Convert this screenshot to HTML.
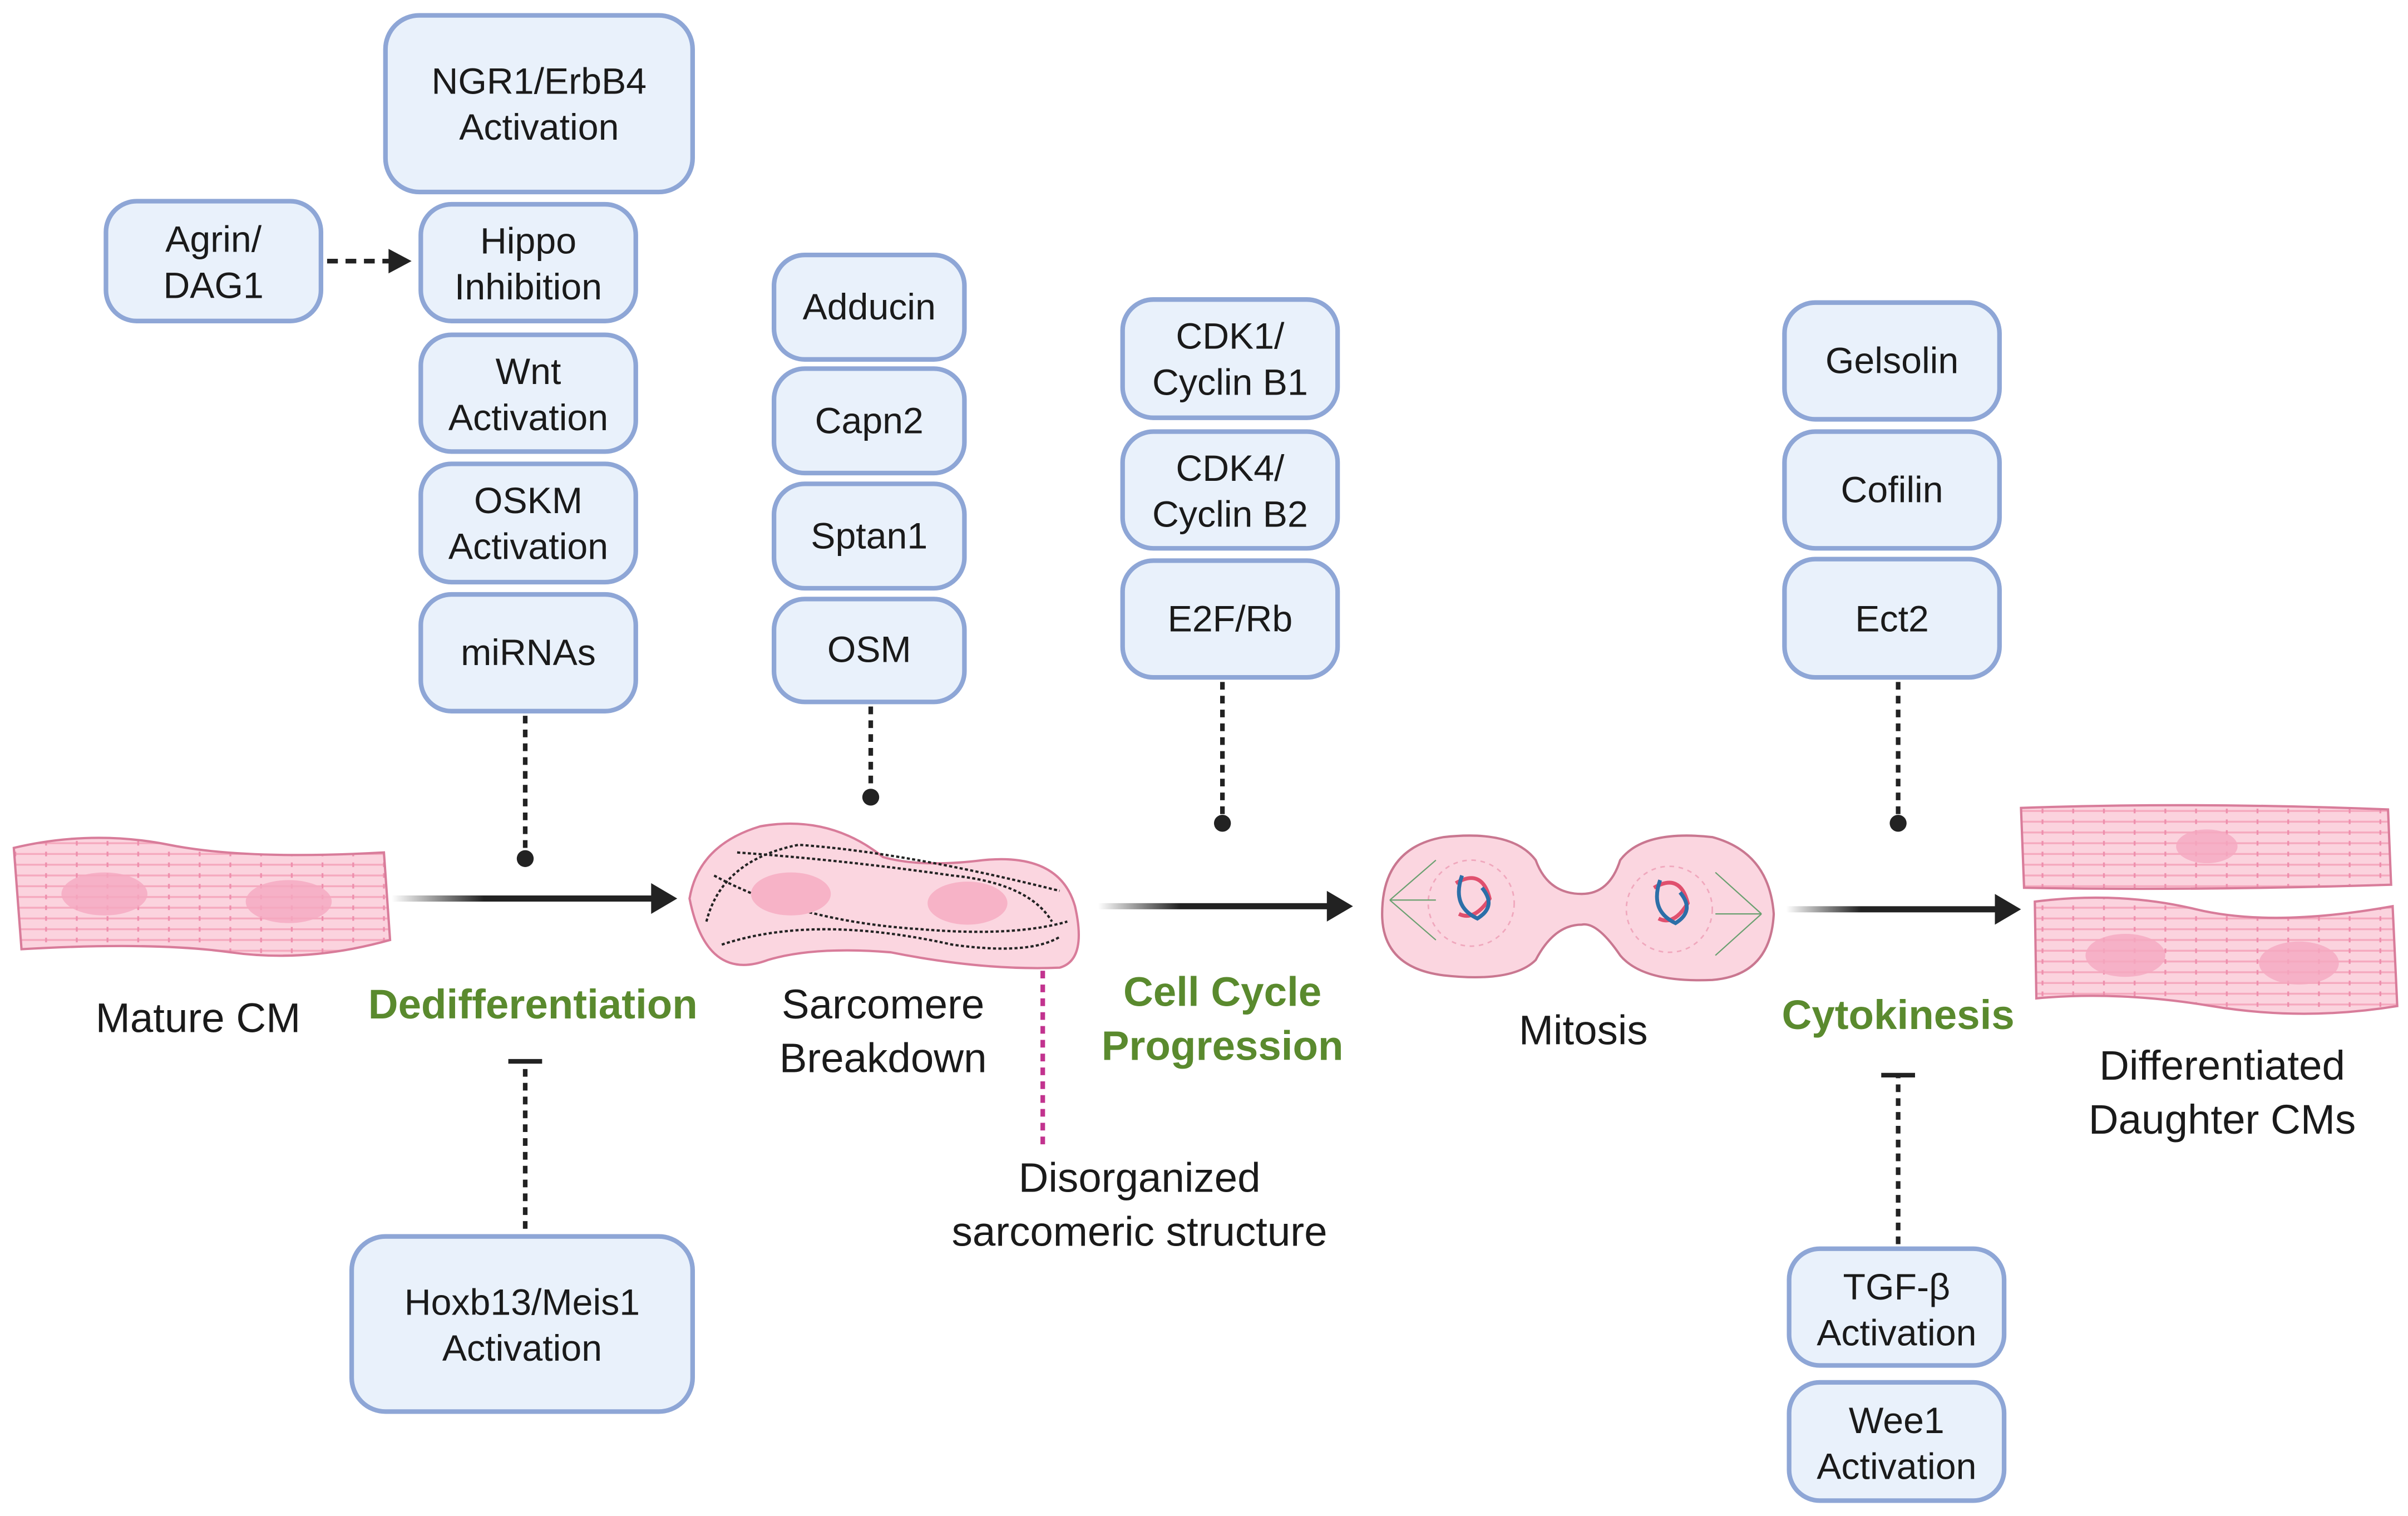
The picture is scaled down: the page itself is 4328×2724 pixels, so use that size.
<!DOCTYPE html>
<html><head><meta charset="utf-8"><style>
html,body{margin:0;padding:0;background:#fff}
svg{display:block}
text{font-family:"Liberation Sans",sans-serif;fill:#1a1a1a}
</style></head><body>
<svg width="4328" height="2724" viewBox="0 0 1568 987" preserveAspectRatio="none" xmlns="http://www.w3.org/2000/svg">
<defs>
<linearGradient id="ga" x1="0" x2="1" y1="0" y2="0"><stop offset="0" stop-color="#fff"/><stop offset="0.35" stop-color="#222"/><stop offset="1" stop-color="#222"/></linearGradient>
<pattern id="str" width="40" height="7" patternUnits="userSpaceOnUse"><rect width="40" height="7" fill="#fbd3de"/><line x1="0" y1="3" x2="40" y2="3" stroke="#f5a9be" stroke-width="1.2"/><line x1="10" y1="1.5" x2="10" y2="4.5" stroke="#ee8fad" stroke-width="1.2"/><line x1="30" y1="1.5" x2="30" y2="4.5" stroke="#ee8fad" stroke-width="1.2"/></pattern>
</defs>
<g fill="#e9f1fb" stroke="#8ea6d6" stroke-width="3">
<rect x="251" y="10" width="200" height="115" rx="22"/>
<rect x="69" y="131" width="140" height="78" rx="20"/>
<rect x="274" y="133" width="140" height="76" rx="20"/>
<rect x="274" y="218" width="140" height="76" rx="20"/>
<rect x="274" y="302" width="140" height="77" rx="20"/>
<rect x="274" y="387" width="140" height="76" rx="20"/>
<rect x="504" y="166" width="124" height="68" rx="20"/>
<rect x="504" y="240" width="124" height="68" rx="20"/>
<rect x="504" y="315" width="124" height="68" rx="20"/>
<rect x="504" y="390" width="124" height="67" rx="20"/>
<rect x="731" y="195" width="140" height="77" rx="20"/>
<rect x="731" y="281" width="140" height="76" rx="20"/>
<rect x="731" y="365" width="140" height="76" rx="20"/>
<rect x="1162" y="197" width="140" height="76" rx="20"/>
<rect x="1162" y="281" width="140" height="76" rx="20"/>
<rect x="1162" y="364" width="140" height="77" rx="20"/>
<rect x="229" y="805" width="222" height="114" rx="22"/>
<rect x="1165" y="813" width="140" height="76" rx="20"/>
<rect x="1165" y="900" width="140" height="77" rx="20"/>
</g>
<g font-size="24" text-anchor="middle">
<text x="351" y="61">NGR1/ErbB4</text><text x="351" y="91">Activation</text>
<text x="139" y="164">Agrin/</text><text x="139" y="194">DAG1</text>
<text x="344" y="165">Hippo</text><text x="344" y="195">Inhibition</text>
<text x="344" y="250">Wnt</text><text x="344" y="280">Activation</text>
<text x="344" y="334">OSKM</text><text x="344" y="364">Activation</text>
<text x="344" y="433">miRNAs</text>
<text x="566" y="208">Adducin</text>
<text x="566" y="282">Capn2</text>
<text x="566" y="357">Sptan1</text>
<text x="566" y="431">OSM</text>
<text x="801" y="227">CDK1/</text><text x="801" y="257">Cyclin B1</text>
<text x="801" y="313">CDK4/</text><text x="801" y="343">Cyclin B2</text>
<text x="801" y="411">E2F/Rb</text>
<text x="1232" y="243">Gelsolin</text>
<text x="1232" y="327">Cofilin</text>
<text x="1232" y="411">Ect2</text>
<text x="340" y="856">Hoxb13/Meis1</text><text x="340" y="886">Activation</text>
<text x="1235" y="846">TGF-β</text><text x="1235" y="876">Activation</text>
<text x="1235" y="933">Wee1</text><text x="1235" y="963">Activation</text>
</g>
<!-- connectors -->
<g stroke="#222" stroke-width="3" fill="none">
<line x1="213" y1="170" x2="254" y2="170" stroke-dasharray="7,5"/>
<line x1="342" y1="466" x2="342" y2="555" stroke-dasharray="5,4"/>
<line x1="567" y1="460" x2="567" y2="515" stroke-dasharray="5,4"/>
<line x1="796" y1="444" x2="796" y2="532" stroke-dasharray="5,4"/>
<line x1="1236" y1="444" x2="1236" y2="532" stroke-dasharray="5,4"/>
<line x1="342" y1="800" x2="342" y2="692" stroke-dasharray="5,4"/>
<line x1="331" y1="691" x2="353" y2="691"/>
<line x1="1236" y1="810" x2="1236" y2="701" stroke-dasharray="5,4"/>
<line x1="1225" y1="700" x2="1247" y2="700"/>
</g>
<polygon points="253,162 268,170 253,178" fill="#222"/>
<g fill="#222"><circle cx="342" cy="559" r="5.5"/><circle cx="567" cy="519" r="5.5"/><circle cx="796" cy="536" r="5.5"/><circle cx="1236" cy="536" r="5.5"/></g>
<g>
<rect x="255" y="583" width="172" height="4" fill="url(#ga)"/><polygon points="424,575 441,585 424,595" fill="#222"/>
<rect x="715" y="588" width="152" height="4" fill="url(#ga)"/><polygon points="864,580 881,590 864,600" fill="#222"/>
<rect x="1163" y="590" width="139" height="4" fill="url(#ga)"/><polygon points="1299,582 1316,592 1299,602" fill="#222"/>
</g>
<line x1="679" y1="614" x2="679" y2="745" stroke="#c2338f" stroke-width="3" stroke-dasharray="5,4"/>
<circle cx="679" cy="612" r="5" fill="#c2338f"/>
<!-- cells -->
<path d="M9,552 Q60,540 110,550 T250,555 L254,612 Q200,627 150,620 T14,618 Z" fill="url(#str)" stroke="#d87c9a" stroke-width="1.5"/>
<ellipse cx="68" cy="582" rx="28" ry="14" fill="#f5a9c0" opacity="0.8"/>
<ellipse cx="188" cy="587" rx="28" ry="14" fill="#f5a9c0" opacity="0.8"/>
<path d="M449,585 Q455,550 495,538 Q540,530 575,558 Q600,565 640,560 Q690,555 700,590 Q708,625 690,630 Q640,632 580,620 Q530,616 500,625 Q460,640 449,585 Z" fill="#fbd6e0" stroke="#d87c9a" stroke-width="1.5"/>
<g stroke="#222" stroke-width="1.5" fill="none" stroke-dasharray="2,1.5">
<path d="M460,600 Q470,560 520,550 Q590,555 690,580"/>
<path d="M465,570 Q520,600 600,605 Q660,610 695,600"/>
<path d="M470,615 Q530,595 620,615 Q670,622 690,610"/>
<path d="M480,555 Q550,560 620,570 Q670,575 685,600"/>
</g>
<ellipse cx="515" cy="582" rx="26" ry="14" fill="#f7b3c7"/>
<ellipse cx="630" cy="588" rx="26" ry="14" fill="#f7b3c7"/>
<path d="M900,595 Q900,552 940,545 Q985,540 1000,560 Q1008,582 1030,582 Q1048,582 1055,560 Q1070,540 1115,545 Q1152,555 1155,595 Q1153,635 1115,638 Q1070,640 1055,622 Q1040,600 1030,602 Q1012,602 1000,625 Q985,640 940,635 Q900,630 900,595 Z" fill="#fbd6e0" stroke="#c97790" stroke-width="1.5"/>
<circle cx="958" cy="588" r="28" fill="none" stroke="#f0a8bd" stroke-dasharray="3,3"/>
<circle cx="1087" cy="592" r="28" fill="none" stroke="#f0a8bd" stroke-dasharray="3,3"/>
<g fill="none" stroke-width="2.5"><path d="M948,575 Q965,565 970,585 Q960,600 950,595" stroke="#e0506e"/><path d="M952,570 Q945,590 962,598 Q975,590 965,578" stroke="#2c6fa8"/>
<path d="M1077,578 Q1094,568 1099,588 Q1090,603 1080,598" stroke="#e0506e"/><path d="M1081,573 Q1074,593 1091,601 Q1104,593 1094,581" stroke="#2c6fa8"/></g>
<g stroke="#6aa070" stroke-width="0.8"><line x1="905" y1="586" x2="935" y2="560"/><line x1="905" y1="586" x2="935" y2="612"/><line x1="905" y1="586" x2="935" y2="586"/><line x1="1147" y1="595" x2="1117" y2="568"/><line x1="1147" y1="595" x2="1117" y2="622"/><line x1="1147" y1="595" x2="1117" y2="595"/></g>
<path d="M1316,526 Q1430,522 1555,527 L1557,576 Q1430,580 1318,578 Z" fill="url(#str)" stroke="#d87c9a" stroke-width="1.5"/>
<ellipse cx="1437" cy="551" rx="20" ry="11" fill="#f5a9c0" opacity="0.8"/>
<path d="M1325,587 Q1380,580 1430,592 T1558,590 L1561,655 Q1500,665 1440,655 T1326,650 Z" fill="url(#str)" stroke="#d87c9a" stroke-width="1.5"/>
<ellipse cx="1384" cy="622" rx="26" ry="14" fill="#f5a9c0" opacity="0.8"/>
<ellipse cx="1497" cy="627" rx="26" ry="14" fill="#f5a9c0" opacity="0.8"/>
<!-- labels -->
<g font-size="27" text-anchor="middle">
<text x="129" y="672">Mature CM</text>
<text x="575" y="663">Sarcomere</text><text x="575" y="698">Breakdown</text>
<text x="1031" y="680">Mitosis</text>
<text x="1447" y="703">Differentiated</text><text x="1447" y="738">Daughter CMs</text>
<text x="742" y="776">Disorganized</text><text x="742" y="811">sarcomeric structure</text>
</g>
<g font-size="27" text-anchor="middle" font-weight="bold">
<text x="347" y="663" style="fill:#5a8a2e">Dedifferentiation</text>
<text x="796" y="655" style="fill:#5a8a2e">Cell Cycle</text><text x="796" y="690" style="fill:#5a8a2e">Progression</text>
<text x="1236" y="670" style="fill:#5a8a2e">Cytokinesis</text>
</g>
</svg>
</body></html>
